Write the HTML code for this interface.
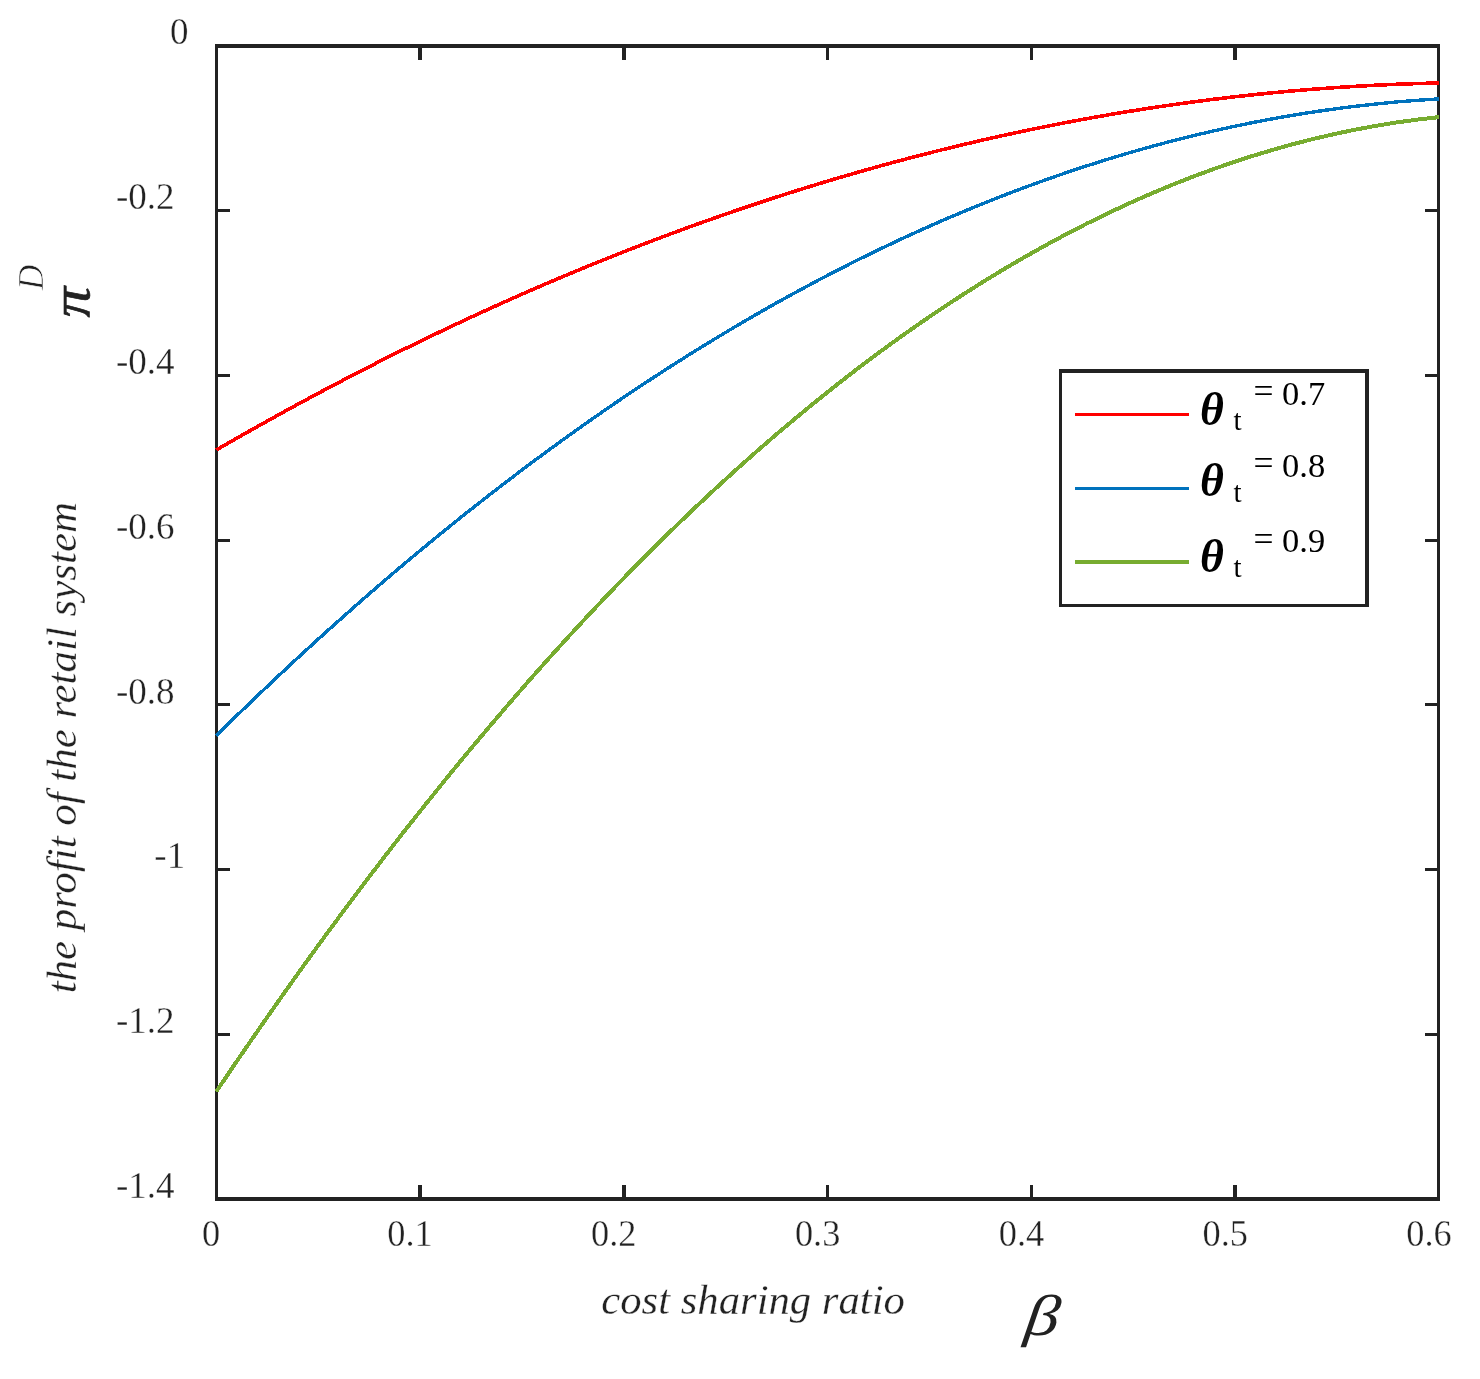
<!DOCTYPE html>
<html lang="en"><head><meta charset="utf-8"><title>Profit of the retail system vs cost sharing ratio</title>
<style>html,body{margin:0;padding:0;background:#fff}svg{display:block}text{font-family:"Liberation Serif","DejaVu Serif",serif}</style></head><body>
<svg width="1480" height="1379" viewBox="0 0 1480 1379">
<rect width="1480" height="1379" fill="#fff"/>
<path d="M215,44H1440V48H215ZM215,1197H1440V1201H215ZM215,44H218V1201H215ZM1437,44H1440V1201H1437ZM418,1185H422V1197H418ZM418,48H422V60H418ZM622,1185H626V1197H622ZM622,48H626V60H622ZM826,1185H829V1197H826ZM826,48H829V60H826ZM1030,1185H1033V1197H1030ZM1030,48H1033V60H1030ZM1233,1185H1237V1197H1233ZM1233,48H1237V60H1233ZM218,209H230V212H218ZM1425,209H1437V212H1425ZM218,374H230V377H218ZM1425,374H1437V377H1425ZM218,539H230V542H218ZM1425,539H1437V542H1425ZM218,703H230V706H218ZM1425,703H1437V706H1425ZM218,868H230V871H218ZM1425,868H1437V871H1425ZM218,1033H230V1036H218ZM1425,1033H1437V1036H1425Z" fill="#222" shape-rendering="crispEdges"/>
<clipPath id="cp"><rect x="215" y="44" width="1225" height="1157"/></clipPath><g clip-path="url(#cp)">
<path d="M216.3,449.96 L237.0,438.05 L257.8,426.33 L278.5,414.81 L299.2,403.49 L319.9,392.37 L340.7,381.44 L361.4,370.70 L382.1,360.16 L402.8,349.82 L423.6,339.68 L444.3,329.73 L465.0,319.98 L485.8,310.42 L506.5,301.06 L527.2,291.90 L547.9,282.93 L568.7,274.16 L589.4,265.58 L610.1,257.20 L630.8,249.02 L651.6,241.04 L672.3,233.25 L693.0,225.65 L713.8,218.25 L734.5,211.05 L755.2,204.05 L775.9,197.24 L796.7,190.63 L817.4,184.21 L838.1,177.99 L858.8,171.97 L879.6,166.14 L900.3,160.51 L921.0,155.07 L941.7,149.83 L962.5,144.79 L983.2,139.95 L1003.9,135.30 L1024.7,130.84 L1045.4,126.58 L1066.1,122.52 L1086.8,118.66 L1107.6,114.99 L1128.3,111.52 L1149.0,108.24 L1169.7,105.16 L1190.5,102.28 L1211.2,99.59 L1231.9,97.10 L1252.7,94.80 L1273.4,92.70 L1294.1,90.80 L1314.8,89.10 L1335.6,87.59 L1356.3,86.27 L1377.0,85.16 L1397.7,84.23 L1418.5,83.51 L1439.2,82.98" stroke="#ff0000" stroke-width="3.6" fill="none" shape-rendering="crispEdges"/>
<path d="M216.3,735.60 L237.0,715.34 L257.8,695.41 L278.5,675.81 L299.2,656.53 L319.9,637.58 L340.7,618.96 L361.4,600.66 L382.1,582.69 L402.8,565.04 L423.6,547.72 L444.3,530.73 L465.0,514.07 L485.8,497.73 L506.5,481.71 L527.2,466.03 L547.9,450.67 L568.7,435.63 L589.4,420.92 L610.1,406.54 L630.8,392.49 L651.6,378.76 L672.3,365.36 L693.0,352.28 L713.8,339.53 L734.5,327.11 L755.2,315.01 L775.9,303.24 L796.7,291.79 L817.4,280.68 L838.1,269.88 L858.8,259.42 L879.6,249.28 L900.3,239.47 L921.0,229.98 L941.7,220.82 L962.5,211.99 L983.2,203.48 L1003.9,195.30 L1024.7,187.44 L1045.4,179.92 L1066.1,172.72 L1086.8,165.84 L1107.6,159.29 L1128.3,153.07 L1149.0,147.17 L1169.7,141.60 L1190.5,136.36 L1211.2,131.44 L1231.9,126.85 L1252.7,122.58 L1273.4,118.65 L1294.1,115.03 L1314.8,111.75 L1335.6,108.79 L1356.3,106.16 L1377.0,103.85 L1397.7,101.87 L1418.5,100.22 L1439.2,98.89" stroke="#0072bd" stroke-width="3.4" fill="none" shape-rendering="crispEdges"/>
<path d="M216.3,1091.59 L237.0,1060.92 L257.8,1030.73 L278.5,1001.03 L299.2,971.82 L319.9,943.10 L340.7,914.87 L361.4,887.12 L382.1,859.87 L402.8,833.10 L423.6,806.82 L444.3,781.02 L465.0,755.72 L485.8,730.90 L506.5,706.58 L527.2,682.74 L547.9,659.38 L568.7,636.52 L589.4,614.15 L610.1,592.26 L630.8,570.86 L651.6,549.95 L672.3,529.53 L693.0,509.59 L713.8,490.15 L734.5,471.19 L755.2,452.72 L775.9,434.74 L796.7,417.24 L817.4,400.24 L838.1,383.72 L858.8,367.69 L879.6,352.15 L900.3,337.10 L921.0,322.53 L941.7,308.46 L962.5,294.87 L983.2,281.77 L1003.9,269.16 L1024.7,257.04 L1045.4,245.40 L1066.1,234.25 L1086.8,223.59 L1107.6,213.42 L1128.3,203.74 L1149.0,194.55 L1169.7,185.84 L1190.5,177.62 L1211.2,169.89 L1231.9,162.65 L1252.7,155.90 L1273.4,149.63 L1294.1,143.86 L1314.8,138.57 L1335.6,133.77 L1356.3,129.45 L1377.0,125.63 L1397.7,122.29 L1418.5,119.45 L1439.2,117.09" stroke="#77ac30" stroke-width="4" fill="none" shape-rendering="crispEdges"/>
</g>
<g font-size="38" fill="#222" stroke="#fff" stroke-width="0.35">
<text transform="translate(201.9,1246.0) scale(0.957,1)">0</text>
<text transform="translate(387.3,1246.0) scale(0.957,1)">0.1</text>
<text transform="translate(591.1,1246.0) scale(0.957,1)">0.2</text>
<text transform="translate(794.9,1246.0) scale(0.957,1)">0.3</text>
<text transform="translate(998.7,1246.0) scale(0.957,1)">0.4</text>
<text transform="translate(1202.5,1246.0) scale(0.957,1)">0.5</text>
<text transform="translate(1406.3,1246.0) scale(0.957,1)">0.6</text>
<text transform="translate(169.9,44.0) scale(0.975,1)">0</text>
<text transform="translate(116.0,209.2) scale(0.975,1)">-0.2</text>
<text transform="translate(116.0,373.9) scale(0.975,1)">-0.4</text>
<text transform="translate(116.0,538.7) scale(0.975,1)">-0.6</text>
<text transform="translate(116.0,703.5) scale(0.975,1)">-0.8</text>
<text transform="translate(154.3,868.2) scale(0.975,1)">-1</text>
<text transform="translate(116.0,1033.0) scale(0.975,1)">-1.2</text>
<text transform="translate(116.0,1197.7) scale(0.975,1)">-1.4</text>
</g>
<text transform="translate(75.8,993.3) rotate(-90)" font-size="42.9" font-style="italic" fill="#222" stroke="#fff" stroke-width="0.3">the profit of the retail system</text>
<text x="601.3" y="1314.3" font-size="42.7" font-style="italic" fill="#222" stroke="#fff" stroke-width="0.3">cost sharing ratio</text>
<text transform="translate(1023.2,1335.1) skewX(-7.5) scale(1.18,0.99)" font-size="58" font-style="italic" fill="#222">β</text>
<text transform="translate(88.6,317.5) rotate(-90) scale(1,0.89)" font-size="61" font-style="italic" fill="#222" stroke="#222" stroke-width="0.7">π</text>
<text transform="translate(43,290) rotate(-90)" font-size="35" font-style="italic" fill="#222" stroke="#fff" stroke-width="0.7">D</text>
<path d="M1059,369H1369V607H1059Z" fill="#222" shape-rendering="crispEdges"/><path d="M1062,373H1365V604H1062Z" fill="#fff" shape-rendering="crispEdges"/>
<path d="M1075,414.5H1189" stroke="#ff0000" stroke-width="3" shape-rendering="crispEdges"/>
<text x="1200" y="424.6" font-size="46" font-style="italic" font-weight="bold" fill="#000">θ</text>
<text x="1233.4" y="429.8" font-size="29" fill="#000">t</text>
<text x="1253.6" y="403.2" font-size="35.5" fill="#000">=</text>
<text x="1282" y="404.7" font-size="34.5" fill="#000">0.7</text>
<path d="M1075,488.5H1189" stroke="#0072bd" stroke-width="3" shape-rendering="crispEdges"/>
<text x="1200" y="496.4" font-size="46" font-style="italic" font-weight="bold" fill="#000">θ</text>
<text x="1233.4" y="501.6" font-size="29" fill="#000">t</text>
<text x="1253.6" y="475.0" font-size="35.5" fill="#000">=</text>
<text x="1282" y="476.5" font-size="34.5" fill="#000">0.8</text>
<path d="M1075,562H1189" stroke="#77ac30" stroke-width="4" shape-rendering="crispEdges"/>
<text x="1200" y="571.9" font-size="46" font-style="italic" font-weight="bold" fill="#000">θ</text>
<text x="1233.4" y="577.1" font-size="29" fill="#000">t</text>
<text x="1253.6" y="550.5" font-size="35.5" fill="#000">=</text>
<text x="1282" y="552.0" font-size="34.5" fill="#000">0.9</text>
</svg></body></html>
